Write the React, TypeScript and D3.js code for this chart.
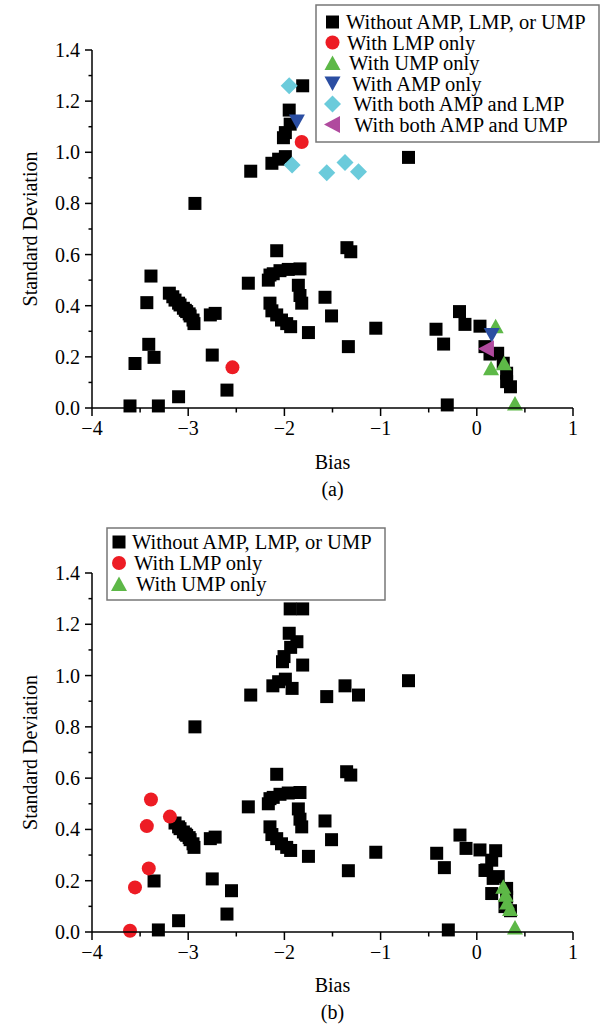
import React from "react";
import * as d3 from "d3";

// ---------- data ----------
const xMajorTicks = [-4, -3, -2, -1, 0, 1];
const xMinorTicks = [-3.5, -2.5, -1.5, -0.5, 0.5];
const yMajorTicks = [0, 0.2, 0.4, 0.6, 0.8, 1.0, 1.2, 1.4];
const yMinorTicks = [0.1, 0.3, 0.5, 0.7, 0.9, 1.1, 1.3];

const seriesNames = [
  "Without AMP, LMP, or UMP",
  "With LMP only",
  "With UMP only",
  "With AMP only",
  "With both AMP and LMP",
  "With both AMP and UMP",
];

// Panel (a)
const withoutA: [number, number][] = [
  [-1.81, 1.26], [-1.95, 1.165], [-1.94, 1.11], [-1.99, 1.077], [-2.01, 1.057], [-1.99, 0.983],
  [-2.06, 0.973], [-2.13, 0.957], [-2.35, 0.926], [-2.93, 0.8], [-0.71, 0.98],
  [-2.08, 0.615], [-3.387, 0.516], [-3.43, 0.412], [-3.196, 0.449], [-3.16, 0.435], [-3.137, 0.422],
  [-3.1, 0.41], [-3.085, 0.403], [-3.05, 0.39], [-3.03, 0.382], [-3.016, 0.377], [-2.99, 0.368],
  [-2.98, 0.36], [-2.95, 0.344], [-2.94, 0.33], [-2.77, 0.364], [-2.72, 0.37],
  [-2.375, 0.488], [-2.167, 0.5], [-2.15, 0.52], [-2.116, 0.525], [-2.046, 0.537], [-1.96, 0.542],
  [-1.838, 0.544], [-1.855, 0.48], [-1.838, 0.44], [-1.82, 0.41], [-2.15, 0.41], [-2.13, 0.38],
  [-2.08, 0.364], [-2.03, 0.344], [-1.976, 0.33], [-1.935, 0.318], [-1.75, 0.295], [-1.578, 0.433],
  [-1.51, 0.36], [-1.35, 0.627], [-1.31, 0.611], [-1.05, 0.312], [-1.335, 0.24],
  [-3.41, 0.249], [-3.355, 0.198], [-3.553, 0.174], [-2.75, 0.207], [-2.597, 0.07], [-3.1, 0.044],
  [-3.605, 0.008], [-3.31, 0.008],
  [-0.424, 0.308], [-0.345, 0.25], [-0.18, 0.377], [-0.123, 0.327], [0.033, 0.32], [0.085, 0.24],
  [0.137, 0.211], [0.217, 0.214], [0.275, 0.175], [0.31, 0.136], [0.31, 0.103], [0.35, 0.083],
  [-0.307, 0.012],
];
const lmpA: [number, number][] = [[-2.54, 0.159], [-1.82, 1.04]];
const umpA: [number, number][] = [[0.196, 0.32], [0.148, 0.155], [0.283, 0.175], [0.397, 0.018]];
const ampA: [number, number][] = [[-1.87, 1.12], [0.155, 0.285]];
const ampLmpA: [number, number][] = [[-1.95, 1.26], [-1.92, 0.95], [-1.56, 0.92], [-1.37, 0.96], [-1.23, 0.924]];
const ampUmpA: [number, number][] = [[0.1, 0.232]];

// Panel (b)
const withoutB: [number, number][] = [
  [-1.81, 1.26], [-1.94, 1.26], [-1.95, 1.165], [-1.87, 1.132], [-1.935, 1.11], [-2.004, 1.074],
  [-2.02, 1.054], [-1.81, 1.041], [-1.99, 0.986], [-2.06, 0.976], [-2.12, 0.96], [-1.92, 0.95],
  [-2.35, 0.924], [-1.56, 0.918], [-1.37, 0.96], [-1.23, 0.924], [-2.93, 0.8], [-0.71, 0.98],
  [-2.08, 0.615], [-3.137, 0.425], [-3.1, 0.41], [-3.085, 0.403], [-3.05, 0.39], [-3.03, 0.382],
  [-3.016, 0.377], [-2.99, 0.368], [-2.98, 0.36], [-2.95, 0.344], [-2.94, 0.33], [-2.77, 0.364],
  [-2.72, 0.37], [-2.375, 0.488], [-2.167, 0.5], [-2.15, 0.52], [-2.116, 0.525], [-2.046, 0.537],
  [-1.96, 0.542], [-1.838, 0.544], [-1.855, 0.48], [-1.838, 0.44], [-1.82, 0.41], [-2.15, 0.41],
  [-2.13, 0.38], [-2.08, 0.364], [-2.03, 0.344], [-1.976, 0.33], [-1.935, 0.318], [-1.75, 0.295],
  [-1.578, 0.433], [-1.51, 0.36], [-1.353, 0.625], [-1.31, 0.612], [-1.05, 0.311], [-1.335, 0.239],
  [-3.355, 0.199], [-2.75, 0.207], [-2.55, 0.161], [-2.597, 0.07], [-3.1, 0.044], [-3.31, 0.008],
  [-0.417, 0.307], [-0.337, 0.251], [-0.175, 0.378], [-0.112, 0.326], [0.033, 0.32], [0.196, 0.317],
  [0.155, 0.28], [0.103, 0.242], [0.085, 0.24], [0.17, 0.209], [0.223, 0.216], [0.155, 0.15],
  [0.31, 0.17], [0.31, 0.136], [0.293, 0.099], [0.35, 0.083], [-0.296, 0.008],
];
const lmpB: [number, number][] = [
  [-3.387, 0.517], [-3.19, 0.45], [-3.43, 0.413], [-3.41, 0.248], [-3.553, 0.174], [-3.605, 0.005],
];
const umpB: [number, number][] = [[0.275, 0.176], [0.3, 0.145], [0.315, 0.115], [0.345, 0.09], [0.397, 0.018]];

// ---------- styles ----------
const FONT = "Liberation Serif, Tinos, Times New Roman, DejaVu Serif, serif";
const COLORS = ["#000000", "#ED1C24", "#5DB847", "#2B4EA2", "#6BCBDB", "#B04A9E"];
const SHAPES = ["square", "circle", "up", "down", "diamond", "left"];

function markerPath(shape: string): string {
  switch (shape) {
    case "square": {
      const h = 6.5;
      return `M${-h},${-h}H${h}V${h}H${-h}Z`;
    }
    case "circle": {
      const p = d3.path();
      p.arc(0, 0, 7, 0, Math.PI * 2);
      p.closePath();
      return p.toString();
    }
    case "up":
      return "M0,-7.5L8,7L-8,7Z";
    case "down":
      return "M0,7.5L8,-7L-8,-7Z";
    case "left":
      return "M-8.5,0L7.5,-8.5L7.5,8.5Z";
    case "diamond":
      return "M0,-8.5L8.5,0L0,8.5L-8.5,0Z";
  }
  return "";
}

type Panel = {
  top: number;
  bottom: number;
  series: [number, number][][];
  legend: { x: number; y: number; w: number; h: number; row0: number; step: number; symX: number; textX: number; indents: number[] };
  biasY: number;
  caption: string;
  captionY: number;
};

const LEFT = 92;
const RIGHT = 573;

const panels: Panel[] = [
  {
    top: 50,
    bottom: 408,
    series: [withoutA, lmpA, umpA, ampA, ampLmpA, ampUmpA],
    legend: { x: 316, y: 5, w: 283, h: 137, row0: 22, step: 20.5, symX: 332.5, textX: 346, indents: [0, 1, 3, 6, 7, 8] },
    biasY: 469,
    caption: "(a)",
    captionY: 496,
  },
  {
    top: 573,
    bottom: 932,
    series: [withoutB, lmpB, umpB],
    legend: { x: 107, y: 528, w: 278, h: 72, row0: 542, step: 21, symX: 119, textX: 132, indents: [0, 2, 4] },
    biasY: 992,
    caption: "(b)",
    captionY: 1019,
  },
];

function PanelView({ p }: { p: Panel }) {
  const x = d3.scaleLinear().domain([-4, 1]).range([LEFT, RIGHT]);
  const y = d3.scaleLinear().domain([0, 1.4]).range([p.bottom, p.top]);
  const fmtY = d3.format(".1f");
  const midY = (p.top + p.bottom) / 2;
  return (
    <g>
      {p.series.map((pts, si) => (
        <g key={si} fill={COLORS[si]}>
          {pts.map((d, i) => (
            <path key={i} d={markerPath(SHAPES[si])} transform={`translate(${x(d[0])},${y(d[1])})`} />
          ))}
        </g>
      ))}
      <g stroke="#000" strokeWidth={1.5} fill="none">
        <line x1={LEFT} x2={LEFT} y1={p.top} y2={p.bottom} />
        <line x1={LEFT} x2={RIGHT} y1={p.bottom} y2={p.bottom} />
        {yMajorTicks.map((t) => (
          <line key={"ym" + t} x1={LEFT - 7} x2={LEFT} y1={y(t)} y2={y(t)} />
        ))}
        {yMinorTicks.map((t) => (
          <line key={"yn" + t} x1={LEFT - 3.5} x2={LEFT} y1={y(t)} y2={y(t)} />
        ))}
        {xMajorTicks.map((t) => (
          <line key={"xm" + t} x1={x(t)} x2={x(t)} y1={p.bottom} y2={p.bottom + 8} />
        ))}
        {xMinorTicks.map((t) => (
          <line key={"xn" + t} x1={x(t)} x2={x(t)} y1={p.bottom} y2={p.bottom + 4.5} />
        ))}
      </g>
      <g style={{ fontFamily: FONT }} fontSize={20} fill="#000">
        {yMajorTicks.map((t) => (
          <text key={"yl" + t} x={LEFT - 12} y={y(t) + 7} textAnchor="end">
            {fmtY(t)}
          </text>
        ))}
        {xMajorTicks.map((t) => (
          <text key={"xl" + t} x={x(t)} y={p.bottom + 27} textAnchor="middle">
            {t < 0 ? "\u2212" + Math.abs(t) : String(t)}
          </text>
        ))}
        <text x={(LEFT + RIGHT) / 2} y={p.biasY} textAnchor="middle">Bias</text>
        <text x={(LEFT + RIGHT) / 2} y={p.captionY} textAnchor="middle">{p.caption}</text>
        <text transform={`translate(30,${midY}) rotate(-90)`} textAnchor="middle" dy="0.35em">
          Standard Deviation
        </text>
      </g>
      <g>
        <rect x={p.legend.x} y={p.legend.y} width={p.legend.w} height={p.legend.h} fill="#fff" stroke="#777" strokeWidth={1.5} />
        {p.series.map((_, si) => {
          const cy = p.legend.row0 + si * p.legend.step;
          return (
            <g key={si}>
              <path d={markerPath(SHAPES[si])} transform={`translate(${p.legend.symX},${cy})`} fill={COLORS[si]} />
              <text x={p.legend.textX + p.legend.indents[si]} y={cy + 7} style={{ fontFamily: FONT }} fontSize={20.5} fill="#000">
                {seriesNames[si]}
              </text>
            </g>
          );
        })}
      </g>
    </g>
  );
}

export default function App() {
  return (
    <svg width={609} height={1027} style={{ position: "absolute", left: 0, top: 0, background: "#fff" }}>
      <rect width={609} height={1027} fill="#fff" />
      {panels.map((p, i) => (
        <PanelView key={i} p={p} />
      ))}
    </svg>
  );
}
